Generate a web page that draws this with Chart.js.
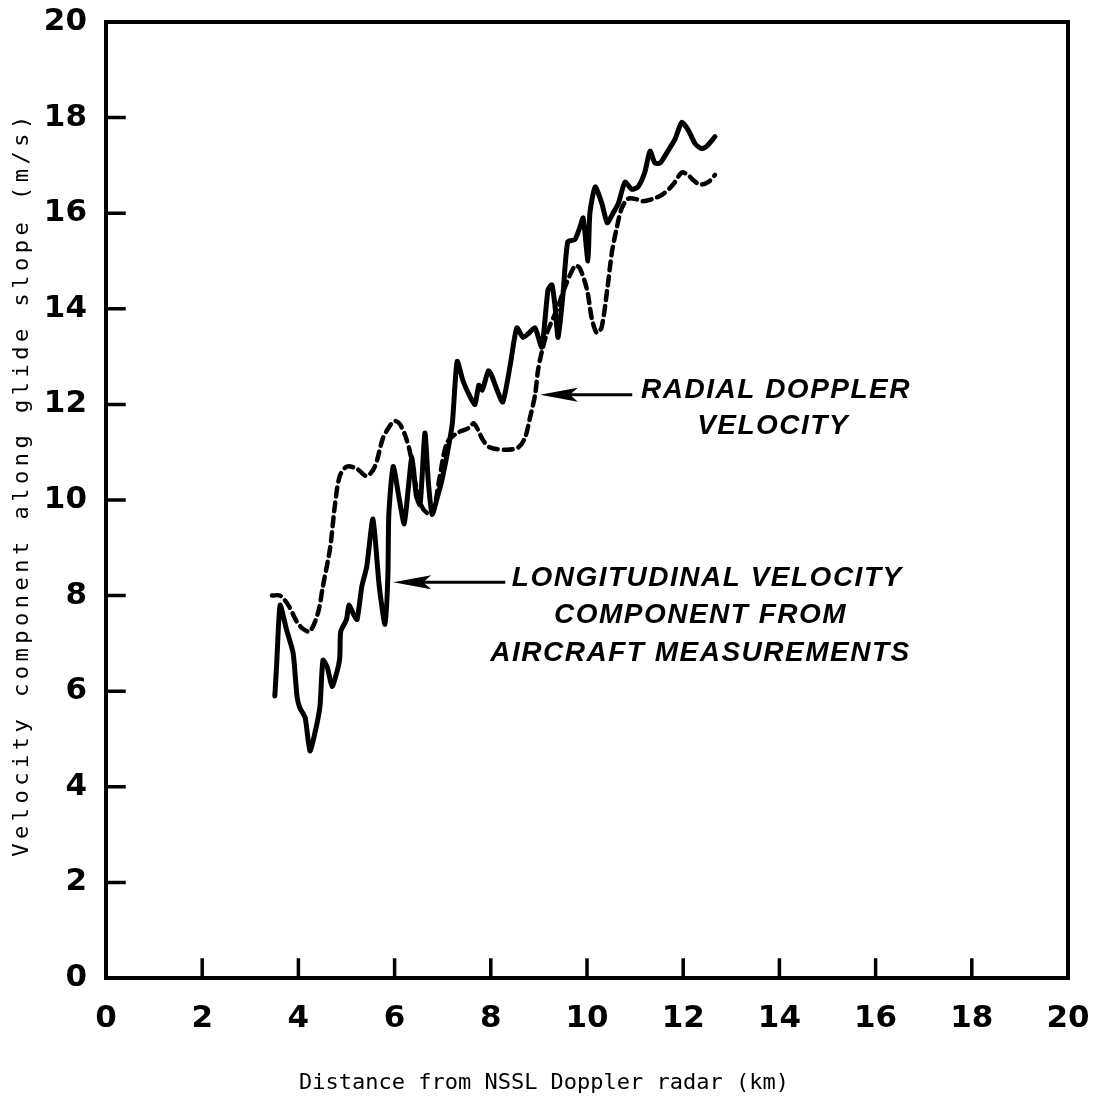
<!DOCTYPE html>
<html>
<head>
<meta charset="utf-8">
<script src="https://cdn.jsdelivr.net/npm/chart.js@4.4.1/dist/chart.umd.min.js"></script>
<style>
  html, body { margin:0; padding:0; background:#fff; }
  #wrap { width:1100px; height:1104px; }
</style>
</head>
<body>
<div id="wrap"><canvas id="chart" width="1100" height="1104"></canvas></div>
<script>
// Glide slope velocity: aircraft longitudinal component vs radial Doppler velocity
const xTicks = [0, 2, 4, 6, 8, 10, 12, 14, 16, 18, 20];
const yTicks = [0, 2, 4, 6, 8, 10, 12, 14, 16, 18, 20];

// longitudinal velocity component from aircraft measurements (solid)
const distLong = [3.51, 3.55, 3.62, 3.75, 3.89, 3.97, 4.03, 4.14, 4.24, 4.36, 4.45, 4.51, 4.6, 4.7, 4.8,
  4.86, 4.88, 5.0, 5.05, 5.15, 5.22, 5.32, 5.42, 5.55, 5.68, 5.8, 5.86, 5.88, 5.97, 6.1,
  6.2, 6.28, 6.36, 6.45, 6.53, 6.63, 6.7, 6.78, 6.9, 6.98, 7.1, 7.2, 7.3, 7.42, 7.55,
  7.67, 7.75, 7.82, 7.95, 8.02, 8.13, 8.25, 8.4, 8.54, 8.67, 8.8, 8.92, 9.06, 9.19, 9.27,
  9.33, 9.4, 9.5, 9.6, 9.75, 9.85, 9.92, 10.02, 10.06, 10.17, 10.31, 10.42, 10.54, 10.65, 10.79,
  10.93, 11.06, 11.2, 11.31, 11.41, 11.52, 11.62, 11.83, 11.97, 12.1, 12.25, 12.39, 12.49, 12.66];
const velLong = [5.9, 6.6, 7.8, 7.3, 6.8, 5.9, 5.65, 5.45, 4.75, 5.2, 5.7, 6.65, 6.5, 6.1, 6.4,
  6.7, 7.25, 7.5, 7.8, 7.6, 7.5, 8.2, 8.6, 9.6, 8.2, 7.4, 8.4, 9.7, 10.7, 10.0,
  9.5, 10.2, 10.9, 10.1, 9.9, 11.4, 10.4, 9.7, 10.1, 10.4, 11.0, 11.6, 12.9, 12.5, 12.2,
  12.0, 12.4, 12.3, 12.7, 12.6, 12.3, 12.05, 12.8, 13.6, 13.4, 13.5, 13.6, 13.2, 14.4, 14.5,
  14.1, 13.4, 14.3, 15.4, 15.45, 15.7, 15.9, 15.0, 16.0, 16.55, 16.2, 15.8, 16.0, 16.2, 16.65,
  16.5, 16.55, 16.85, 17.3, 17.05, 17.05, 17.2, 17.55, 17.9, 17.75, 17.45, 17.35, 17.4, 17.6];

// radial Doppler velocity (dashed)
const distRadial = [3.45, 3.62, 3.79, 3.97, 4.1, 4.24, 4.41, 4.51, 4.66, 4.76, 4.86, 5.01, 5.22, 5.42, 5.59,
  5.76, 5.9, 6.0, 6.1, 6.22, 6.32, 6.4, 6.5, 6.6, 6.78, 6.94, 7.09, 7.3, 7.53, 7.65,
  7.84, 7.98, 8.33, 8.57, 8.71, 8.81, 8.92, 8.98, 9.06, 9.17, 9.38, 9.54, 9.75, 9.85, 10.0,
  10.1, 10.2, 10.3, 10.42, 10.52, 10.62, 10.72, 10.85, 11.0, 11.16, 11.37, 11.58, 11.79, 11.97, 12.1,
  12.2, 12.35, 12.52, 12.66];
const velRadial = [8.0, 8.0, 7.8, 7.45, 7.3, 7.25, 7.65, 8.2, 9.0, 9.9, 10.5, 10.7, 10.65, 10.5, 10.7,
  11.3, 11.55, 11.65, 11.6, 11.35, 11.0, 10.5, 10.1, 9.8, 9.7, 10.5, 11.2, 11.4, 11.5, 11.6,
  11.25, 11.1, 11.05, 11.1, 11.3, 11.7, 12.2, 12.7, 13.1, 13.5, 14.0, 14.45, 14.9, 14.85, 14.4,
  13.8, 13.5, 13.6, 14.4, 15.2, 15.7, 16.1, 16.3, 16.3, 16.25, 16.3, 16.4, 16.6, 16.85, 16.8,
  16.7, 16.6, 16.65, 16.8];

// annotation text and arrows, in data units (km, m/s)
const notes = [
  { text:'RADIAL DOPPLER', x:13.93, y:12.3 },
  { text:'VELOCITY', x:13.87, y:11.55 },
  { text:'LONGITUDINAL VELOCITY', x:12.5, y:8.36 },
  { text:'COMPONENT FROM', x:12.36, y:7.58 },
  { text:'AIRCRAFT MEASUREMENTS', x:12.36, y:6.8 }
];
const arrows = [
  { from:[10.94, 12.2], to:[9.02, 12.2] },
  { from:[8.3, 8.28], to:[5.97, 8.28] }
];

const pts = (xs, ys) => xs.map((x, i) => ({ x, y: ys[i] }));
const TICK_FONT = { family:'DejaVu Sans', size:31, weight:'bold' };
const noPad = s => { s.paddingLeft = 0; s.paddingRight = 0; s.paddingTop = 0; s.paddingBottom = 0; };

const framePlugin = {
  id:'frame',
  afterDraw(chart){
    const { ctx, chartArea:a, scales:{ x, y } } = chart;
    ctx.save();
    ctx.strokeStyle = '#000';
    ctx.lineWidth = 4;
    ctx.lineCap = 'square';
    ctx.strokeRect(a.left, a.top, a.right - a.left, a.bottom - a.top);
    // inward tick marks
    ctx.lineWidth = 3.5;
    ctx.beginPath();
    xTicks.slice(1, -1).forEach(v => {
      const px = x.getPixelForValue(v);
      ctx.moveTo(px, a.bottom); ctx.lineTo(px, a.bottom - 18);
    });
    yTicks.slice(1, -1).forEach(v => {
      const py = y.getPixelForValue(v);
      ctx.moveTo(a.left, py); ctx.lineTo(a.left + 18, py);
    });
    ctx.stroke();

    // arrows
    ctx.lineWidth = 3;
    ctx.lineCap = 'butt';
    ctx.fillStyle = '#000';
    arrows.forEach(ar => {
      const x0 = x.getPixelForValue(ar.from[0]), y0 = y.getPixelForValue(ar.from[1]);
      const x1 = x.getPixelForValue(ar.to[0]), y1 = y.getPixelForValue(ar.to[1]);
      ctx.beginPath(); ctx.moveTo(x0, y0); ctx.lineTo(x1 + 20, y1); ctx.stroke();
      ctx.beginPath();
      ctx.moveTo(x1, y1); ctx.lineTo(x1 + 38, y1 - 7); ctx.lineTo(x1 + 30, y1); ctx.lineTo(x1 + 38, y1 + 7);
      ctx.closePath(); ctx.fill();
    });

    // labels
    ctx.font = 'italic bold 28px "Liberation Sans"';
    ctx.letterSpacing = '1.5px';
    ctx.textAlign = 'center';
    ctx.textBaseline = 'middle';
    notes.forEach(n => ctx.fillText(n.text, x.getPixelForValue(n.x), y.getPixelForValue(n.y)));

    // axis titles
    ctx.font = '22px "DejaVu Sans Mono"';
    ctx.letterSpacing = '0px';
    ctx.fillText('Distance from NSSL Doppler radar (km)', 544, 1083);
    ctx.save();
    ctx.translate(22, 484);
    ctx.rotate(-Math.PI / 2);
    ctx.letterSpacing = '4.5px';
    ctx.fillText('Velocity component along glide slope (m/s)', 0, 0);
    ctx.restore();
    ctx.restore();
  }
};

new Chart(document.getElementById('chart'), {
  type:'line',
  data:{
    datasets:[
      { label:'Longitudinal velocity component from aircraft measurements',
        data:pts(distLong, velLong), borderColor:'#000', borderWidth:5,
        pointRadius:0, tension:0.2, fill:false, borderJoinStyle:'round', borderCapStyle:'round' },
      { label:'Radial Doppler velocity',
        data:pts(distRadial, velRadial), borderColor:'#000', borderWidth:4.5,
        borderDash:[9, 6], pointRadius:0, tension:0.3, fill:false, borderCapStyle:'round' }
    ]
  },
  options:{
    responsive:false, animation:false,
    layout:{ padding:{ top:22, right:32, left:0, bottom:0 } },
    plugins:{ legend:{ display:false }, tooltip:{ enabled:false } },
    scales:{
      x:{ type:'linear', min:0, max:20,
          afterBuildTicks: s => { s.ticks = xTicks.map(v => ({ value:v })); },
          afterFit: s => { s.height = 126; noPad(s); },
          grid:{ display:false }, border:{ display:false },
          ticks:{ color:'#000', font:TICK_FONT, padding:14, maxRotation:0, autoSkip:false } },
      y:{ type:'linear', min:0, max:20,
          afterBuildTicks: s => { s.ticks = yTicks.map(v => ({ value:v })); },
          afterFit: s => { s.width = 106; noPad(s); },
          grid:{ display:false }, border:{ display:false },
          ticks:{ color:'#000', font:TICK_FONT, padding:11, autoSkip:false } }
    }
  },
  plugins:[framePlugin]
});
</script>
</body>
</html>
